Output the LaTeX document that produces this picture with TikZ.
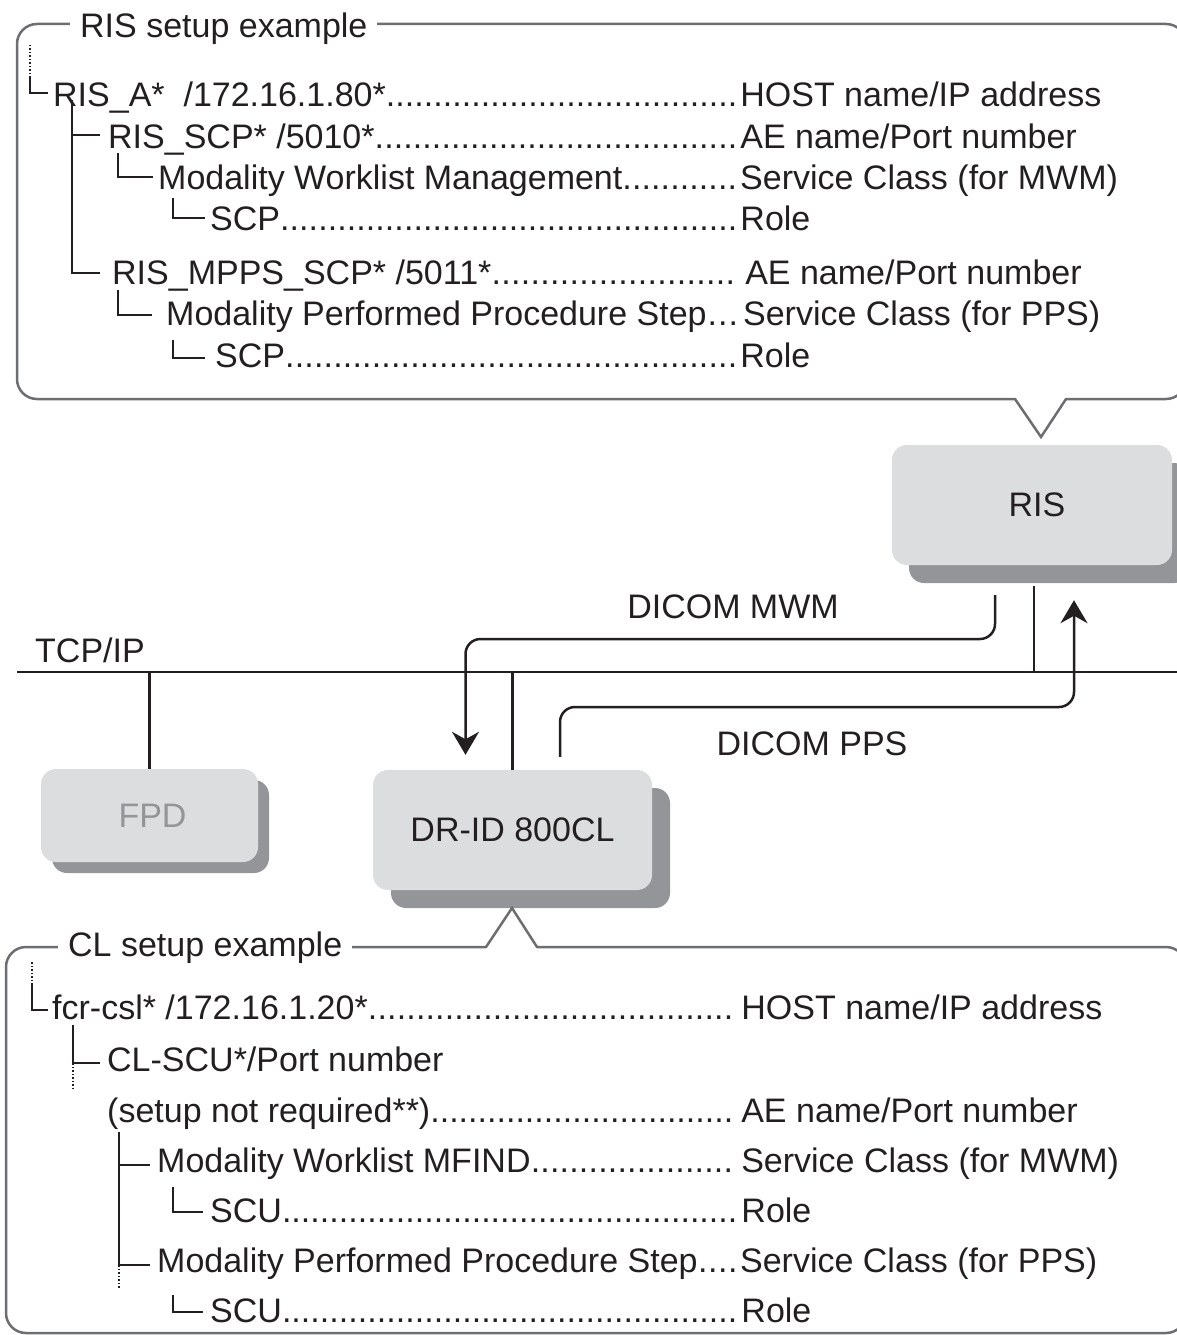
\documentclass[tikz,border=0pt]{standalone}
\usepackage{fontspec}
\setmainfont{Liberation Sans}
\usetikzlibrary{shadows,arrows.meta}
\definecolor{ink}{HTML}{231F20}
\definecolor{framec}{HTML}{6D6E71}
\definecolor{boxfill}{HTML}{DCDDDF}
\definecolor{shadowc}{HTML}{939598}
\newcommand\myrow[7]{\node[rowtxt] (#1) at (#2,#3) {\hbox to \dimexpr #5pt-#2pt\relax{#4\xleaders\hbox{.}\hfill}\hskip\dimexpr #6pt-#5pt\relax #7};}
\begin{document}
\begin{tikzpicture}[x=1pt,y=-1pt,
  font=\fontsize{34pt}{40pt}\selectfont,
  rowtxt/.style={anchor=base west, inner sep=0pt, text=ink},
  frame/.style={draw=framec, line width=2.5pt, line cap=round},
  tree/.style={draw=ink, line width=2pt},
  thintree/.style={draw=ink, line width=1.5pt},
  treedot/.style={draw=ink, line width=2pt, dash pattern=on 1.5pt off 2pt},
  net/.style={draw=ink, line width=2.5pt},
  conn/.style={draw=ink, line width=2.5pt, rounded corners=15pt},
  devbox/.style={rounded corners=15pt, fill=boxfill, inner sep=0pt, text=ink},
  titletxt/.style={anchor=base west, fill=white, inner xsep=10pt, inner ysep=3pt, text=ink},
  lbl/.style={anchor=base, inner sep=0pt, text=ink}
]
\useasboundingbox (0,0) rectangle (1176,1335);

% ---------- devices ----------
\node[devbox, minimum width=280pt, minimum height=120pt, text depth=0pt,
  drop shadow={shadow xshift=17pt, shadow yshift=-18pt, fill=shadowc, opacity=1}] (ris) at (1032,505) {\hspace*{10pt}RIS};
\node[devbox, minimum width=279pt, minimum height=120pt,
  drop shadow={shadow xshift=18pt, shadow yshift=-18pt, fill=shadowc, opacity=1}] (dr) at (512.5,830) {DR-ID 800CL};
\node[devbox, minimum width=217pt, minimum height=93pt, text=shadowc,
  drop shadow={shadow xshift=11pt, shadow yshift=-11pt, fill=shadowc, opacity=1}] (fpd) at (149.5,815.5) {\hspace*{6pt}FPD};

% ---------- network ----------
\coordinate (tcpL) at (17,672);
\coordinate (tcpR) at (1190,672);
\draw[net] (tcpL) -- (tcpR);
\node[rowtxt] (tcp) at (35,662) {TCP/IP};
\draw[net] (fpd.north) -- (fpd.north |- tcpL);
\draw[net] (dr.north) -- (dr.north |- tcpL);
\coordinate (risdrop) at ([xshift=2pt,yshift=-21pt]ris.south);
\draw[net] (risdrop) -- (risdrop |- tcpL);

% DICOM MWM
\coordinate (mwmS) at ([xshift=-37pt,yshift=-30pt]ris.south);
\coordinate (mwmY) at (0,639);
\coordinate (mwmE) at ([xshift=-47pt,yshift=15pt]dr.north);
\draw[conn,-{Stealth[length=23pt,width=27pt]}] (mwmS) -- (mwmS |- mwmY) -- (mwmE |- mwmY) -- (mwmE);
\node[lbl] (mwml) at (733,618) {DICOM MWM};

% DICOM PPS
\coordinate (ppsS) at ([xshift=47.5pt,yshift=13pt]dr.north);
\coordinate (ppsY) at (0,707);
\coordinate (ppsE) at ([xshift=42pt,yshift=-35pt]ris.south);
\draw[conn,-{Stealth[length=23pt,width=27pt]}] (ppsS) -- (ppsS |- ppsY) -- (ppsE |- ppsY) -- (ppsE);
\node[lbl] (ppsl) at (812,755) {DICOM PPS};

% ---------- RIS setup frame ----------
\draw[frame, rounded corners=20pt] (1015,399) -- (17,399) -- (17,24) -- (1186,24) -- (1186,399) -- (1066,399);
\draw[frame] (1015,399) -- (1041,437) -- (1066,399);
\node[titletxt] (ristitle) at (70,38) {RIS setup example};

\draw[treedot] (30,45) -- (30,78);
\draw[thintree] (30,78) -- (30,93) -- (48,93);
\draw[tree] (72,100) -- (72,273) -- (100,273);
\draw[tree] (72,135) -- (100,135);
\draw[tree] (118,153) -- (118,177) -- (153,177);
\draw[tree] (173,198) -- (173,218) -- (205,218);
\draw[tree] (118,290) -- (118,315) -- (152,315);
\draw[tree] (173,340) -- (173,358) -- (205,358);

\myrow{r1}{53}{107}{RIS\_A*\ \ /172.16.1.80*}{737}{740}{HOST name/IP address}
\myrow{r2}{108}{148}{RIS\_SCP* /5010*}{737}{740}{AE name/Port number}
\myrow{r3}{158}{189}{Modality Worklist Management}{737}{740}{Service Class (for MWM)}
\myrow{r4}{210}{230}{SCP}{737}{740}{Role}
\myrow{r5}{112}{284}{RIS\_MPPS\_SCP* /5011*}{735}{745}{AE name/Port number}
\myrow{r6}{166}{325}{Modality Performed Procedure Step}{739}{743}{Service Class (for PPS)}
\myrow{r7}{215}{367}{SCP}{737}{740}{Role}

% ---------- CL setup frame ----------
\draw[frame, rounded corners=20pt] (486,947) -- (6,947) -- (6,1333) -- (1186,1333) -- (1186,947) -- (537,947);
\draw[frame] (486,947) -- (512,908) -- (537,947);
\node[titletxt] (cltitle) at (58,956) {CL setup example};

\draw[treedot] (32,962) -- (32,985);
\draw[thintree] (32,985) -- (32,1010) -- (48,1010);
\draw[tree] (73,1025) -- (73,1063) -- (100,1063);
\draw[treedot] (73,1063) -- (73,1090);
\draw[tree] (119,1132) -- (119,1265) -- (150,1265);
\draw[tree] (119,1165) -- (150,1165);
\draw[treedot] (119,1265) -- (119,1288);
\draw[tree] (173,1187) -- (173,1212) -- (203,1212);
\draw[tree] (173,1295) -- (173,1312) -- (203,1312);

\myrow{c1}{52}{1019}{fcr-csl* /172.16.1.20*}{733}{741}{HOST name/IP address}
\node[rowtxt] (c2) at (107,1071) {CL-SCU*/Port number};
\myrow{c3}{107}{1122}{(setup not required**)}{733}{741}{AE name/Port number}
\myrow{c4}{157}{1172}{Modality Worklist MFIND}{733}{741}{Service Class (for MWM)}
\myrow{c5}{210}{1222}{SCU}{737}{741}{Role}
\myrow{c6}{157}{1272}{Modality Performed Procedure Step}{738}{740}{Service Class (for PPS)}
\myrow{c7}{210}{1322}{SCU}{737}{741}{Role}
\end{tikzpicture}
\end{document}
